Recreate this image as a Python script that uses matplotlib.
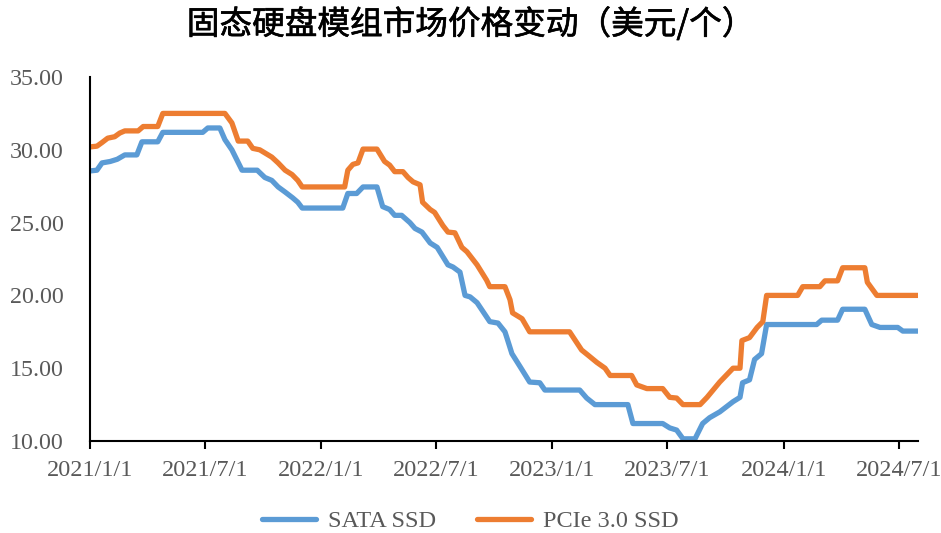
import pandas as pd
import matplotlib
matplotlib.use("Agg")
import matplotlib.pyplot as plt
import matplotlib.patheffects as pe

plt.rcParams['font.family'] = ['Liberation Serif', 'Noto Sans CJK SC']

# SATA SSD price knots (USD per unit)
sata_dates = ["2021-01-01", "2021-01-12", "2021-01-20", "2021-02-02", "2021-02-13", "2021-02-25",
              "2021-03-16", "2021-03-24", "2021-04-18", "2021-04-26", "2021-06-28", "2021-07-06",
              "2021-07-25", "2021-08-02", "2021-08-13", "2021-08-29", "2021-09-22", "2021-10-04",
              "2021-10-15", "2021-10-25", "2021-11-05", "2021-11-17", "2021-11-25", "2021-12-02",
              "2022-02-04", "2022-02-12", "2022-02-26", "2022-03-08", "2022-03-30", "2022-04-08",
              "2022-04-19", "2022-04-27", "2022-05-08", "2022-05-21", "2022-05-29", "2022-06-09",
              "2022-06-22", "2022-07-03", "2022-07-20", "2022-07-28", "2022-08-08", "2022-08-16",
              "2022-08-24", "2022-09-04", "2022-09-24", "2022-10-07", "2022-10-18", "2022-10-21",
              "2022-10-29", "2022-11-11", "2022-11-26", "2022-12-12", "2022-12-20", "2023-02-13",
              "2023-02-24", "2023-03-09", "2023-04-30", "2023-05-08", "2023-06-24", "2023-07-05",
              "2023-07-16", "2023-07-26", "2023-08-14", "2023-08-26", "2023-09-06", "2023-09-22",
              "2023-10-13", "2023-10-24", "2023-10-28", "2023-11-08", "2023-11-16", "2023-11-27",
              "2023-12-05", "2024-02-22", "2024-03-01", "2024-03-26", "2024-04-03", "2024-05-08",
              "2024-05-19", "2024-06-01", "2024-06-29", "2024-07-07", "2024-07-31"]
sata_vals = [28.55, 28.6, 29.1, 29.2, 29.35, 29.65,
             29.65, 30.55, 30.55, 31.2, 31.2, 31.5,
             31.5, 30.7, 30.0, 28.6, 28.6, 28.1,
             27.9, 27.45, 27.1, 26.7, 26.4, 26.0,
             26.0, 27.0, 27.0, 27.45, 27.45, 26.1,
             25.9, 25.5, 25.5, 25.0, 24.6, 24.35,
             23.6, 23.3, 22.1, 21.95, 21.6, 20.0,
             19.9, 19.5, 18.2, 18.1, 17.5, 17.1,
             16.0, 15.1, 14.05, 14.0, 13.5, 13.5,
             12.95, 12.5, 12.5, 11.2, 11.2, 10.9,
             10.75, 10.15, 10.15, 11.2, 11.6, 12.0,
             12.7, 13.0, 14.0, 14.2, 15.6, 16.0,
             18.0, 18.0, 18.3, 18.3, 19.05, 19.05,
             18.0, 17.8, 17.8, 17.55, 17.55]

# PCIe 3.0 SSD price knots (USD per unit)
pcie_dates = ["2021-01-01", "2021-01-12", "2021-01-20", "2021-01-29", "2021-02-09", "2021-02-17",
              "2021-02-25", "2021-03-18", "2021-03-26", "2021-04-18", "2021-04-26", "2021-08-02",
              "2021-08-13", "2021-08-23", "2021-09-07", "2021-09-15", "2021-09-26", "2021-10-15",
              "2021-10-25", "2021-11-05", "2021-11-16", "2021-11-25", "2021-12-02", "2022-02-07",
              "2022-02-12", "2022-02-20", "2022-02-28", "2022-03-08", "2022-03-30", "2022-04-11",
              "2022-04-19", "2022-04-27", "2022-05-10", "2022-05-18", "2022-05-26", "2022-06-06",
              "2022-06-10", "2022-06-22", "2022-06-29", "2022-07-12", "2022-07-20", "2022-07-31",
              "2022-08-11", "2022-08-19", "2022-09-04", "2022-09-19", "2022-09-24", "2022-10-18",
              "2022-10-26", "2022-10-30", "2022-11-14", "2022-11-26", "2023-01-28", "2023-02-16",
              "2023-02-26", "2023-03-12", "2023-03-25", "2023-04-02", "2023-05-06", "2023-05-14",
              "2023-05-30", "2023-06-24", "2023-07-05", "2023-07-16", "2023-07-26", "2023-08-22",
              "2023-09-02", "2023-09-22", "2023-10-13", "2023-10-24", "2023-10-27", "2023-11-08",
              "2023-11-20", "2023-11-29", "2023-12-05", "2024-01-23", "2024-01-31", "2024-02-27",
              "2024-03-06", "2024-03-26", "2024-04-03", "2024-05-08", "2024-05-12", "2024-05-27",
              "2024-07-31"]
pcie_vals = [30.2, 30.25, 30.5, 30.8, 30.9, 31.15,
             31.3, 31.3, 31.6, 31.6, 32.5, 32.5,
             31.85, 30.6, 30.6, 30.1, 30.0, 29.5,
             29.1, 28.6, 28.3, 27.9, 27.45, 27.45,
             28.6, 29.0, 29.1, 30.05, 30.05, 29.2,
             28.95, 28.5, 28.5, 28.1, 27.8, 27.6,
             26.4, 25.9, 25.7, 24.8, 24.35, 24.3,
             23.3, 23.0, 22.1, 21.05, 20.6, 20.6,
             19.7, 18.8, 18.4, 17.5, 17.5, 16.25,
             15.9, 15.4, 15.0, 14.5, 14.5, 13.85,
             13.6, 13.6, 13.0, 12.95, 12.5, 12.5,
             13.0, 14.05, 15.0, 15.0, 16.9, 17.1,
             17.8, 18.2, 20.0, 20.0, 20.6, 20.6,
             21.0, 21.0, 21.9, 21.9, 20.9, 20.0,
             20.0]

tick_dates = ["2021-01-01", "2021-07-01", "2022-01-01", "2022-07-01",
              "2023-01-01", "2023-07-01", "2024-01-01", "2024-07-01"]
tick_labels = ["2021/1/1", "2021/7/1", "2022/1/1", "2022/7/1",
               "2023/1/1", "2023/7/1", "2024/1/1", "2024/7/1"]
y_ticks = [10, 15, 20, 25, 30, 35]

blue = "#5B9BD5"
orange = "#ED7D31"
grey = "#595959"

fig = plt.figure(figsize=(9.41, 5.33), dpi=100)
ax = fig.add_axes([0.0956, 0.1726, 0.88, 0.6829])

ax.plot(pd.to_datetime(sata_dates), sata_vals, color=blue, lw=3.8,
        solid_joinstyle="round", solid_capstyle="round", label="SATA SSD")
ax.plot(pd.to_datetime(pcie_dates), pcie_vals, color=orange, lw=3.8,
        solid_joinstyle="round", solid_capstyle="round", label="PCIe 3.0 SSD")

ax.set_ylim(10, 35)
ax.set_yticks(y_ticks)
ax.set_yticklabels([f"{v:.2f}" for v in y_ticks])
ax.set_xlim(pd.Timestamp("2021-01-01"), pd.Timestamp("2024-07-31"))
ax.set_xticks(pd.to_datetime(tick_dates))
ax.set_xticklabels(tick_labels)

for s in ["top", "right"]:
    ax.spines[s].set_visible(False)
for s in ["left", "bottom"]:
    ax.spines[s].set_linewidth(1.5)
    ax.spines[s].set_color("black")
ax.tick_params(axis="y", length=0, pad=19, labelsize=17.3, labelcolor=grey)
ax.tick_params(axis="x", length=6, width=1.5, direction="out", pad=8, labelsize=17.5, labelcolor=grey)

# regular CJK weight with a thin outline, closer to the heavier title face
fig.text(0.5, 0.955, "固态硬盘模组市场价格变动（美元/个）", ha="center", va="center",
         fontsize=23.5, family=["Noto Sans CJK SC"],
         path_effects=[pe.withStroke(linewidth=0.45, foreground="black")])

fig.legend(loc="center", bbox_to_anchor=(0.5, 0.022), ncol=2, frameon=False,
           fontsize=17.5, handlelength=2.2, columnspacing=1.7, handletextpad=0.5,
           labelcolor=grey)

fig.savefig("out.png", dpi=100)
